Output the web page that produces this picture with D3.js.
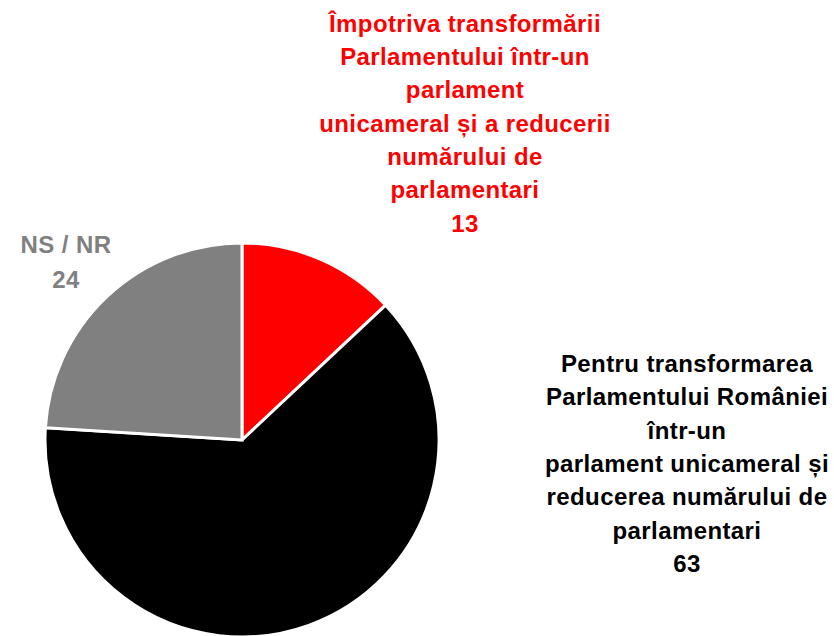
<!DOCTYPE html>
<html>
<head>
<meta charset="utf-8">
<script src="https://cdn.jsdelivr.net/npm/d3@7"></script>
<style>
  html, body { margin: 0; padding: 0; background: #fff; }
  svg { display: block; }
  text { font-family: "Liberation Sans", Arial, sans-serif; font-weight: bold; letter-spacing: 0.4px; }
</style>
</head>
<body>
<div id="chart"></div>
<script>
// Data
const categories = ['Împotriva', 'Pentru', 'NS / NR'];
const values = [13, 63, 24];
const colours = ['#ff0000', '#000000', '#808080'];
const labelLines = [
    ['Împotriva transformării', 'Parlamentului într-un', 'parlament', 'unicameral și a reducerii', 'numărului de', 'parlamentari'],
    ['Pentru transformarea', 'Parlamentului României', 'într-un', 'parlament unicameral și', 'reducerea numărului de', 'parlamentari'],
    ['NS / NR']
];

const width = 834, height = 636;
const cx = 242, cy = 440, radius = 197;

const svg = d3.select('#chart')
    .append('svg')
    .attr('width', width)
    .attr('height', height);

const pie = d3.pie().sort(null).value(d => d);
const arc = d3.arc().innerRadius(0).outerRadius(radius);

svg.append('g')
    .attr('transform', `translate(${cx},${cy})`)
    .selectAll('path')
    .data(pie(values))
    .enter()
    .append('path')
    .attr('d', arc)
    .attr('fill', (d, i) => colours[i])
    .attr('stroke', '#fff')
    .attr('stroke-width', 3)
    .attr('stroke-linejoin', 'miter');

// Labels: [centre x, first baseline]
const labelPos = [[465, 31.7], [687, 372], [66, 253]];
const lineGap = 33.3;
const fontSize = 24;

labelLines.forEach((lines, i) => {
    const t = svg.append('text')
        .attr('text-anchor', 'middle')
        .attr('fill', colours[i])
        .style('font-size', fontSize + 'px');
    lines.concat([String(values[i])]).forEach((line, j) => {
        t.append('tspan')
            .attr('x', labelPos[i][0])
            .attr('y', labelPos[i][1] + j * (i === 2 ? 35 : lineGap))
            .text(line);
    });
});
</script>
</body>
</html>
